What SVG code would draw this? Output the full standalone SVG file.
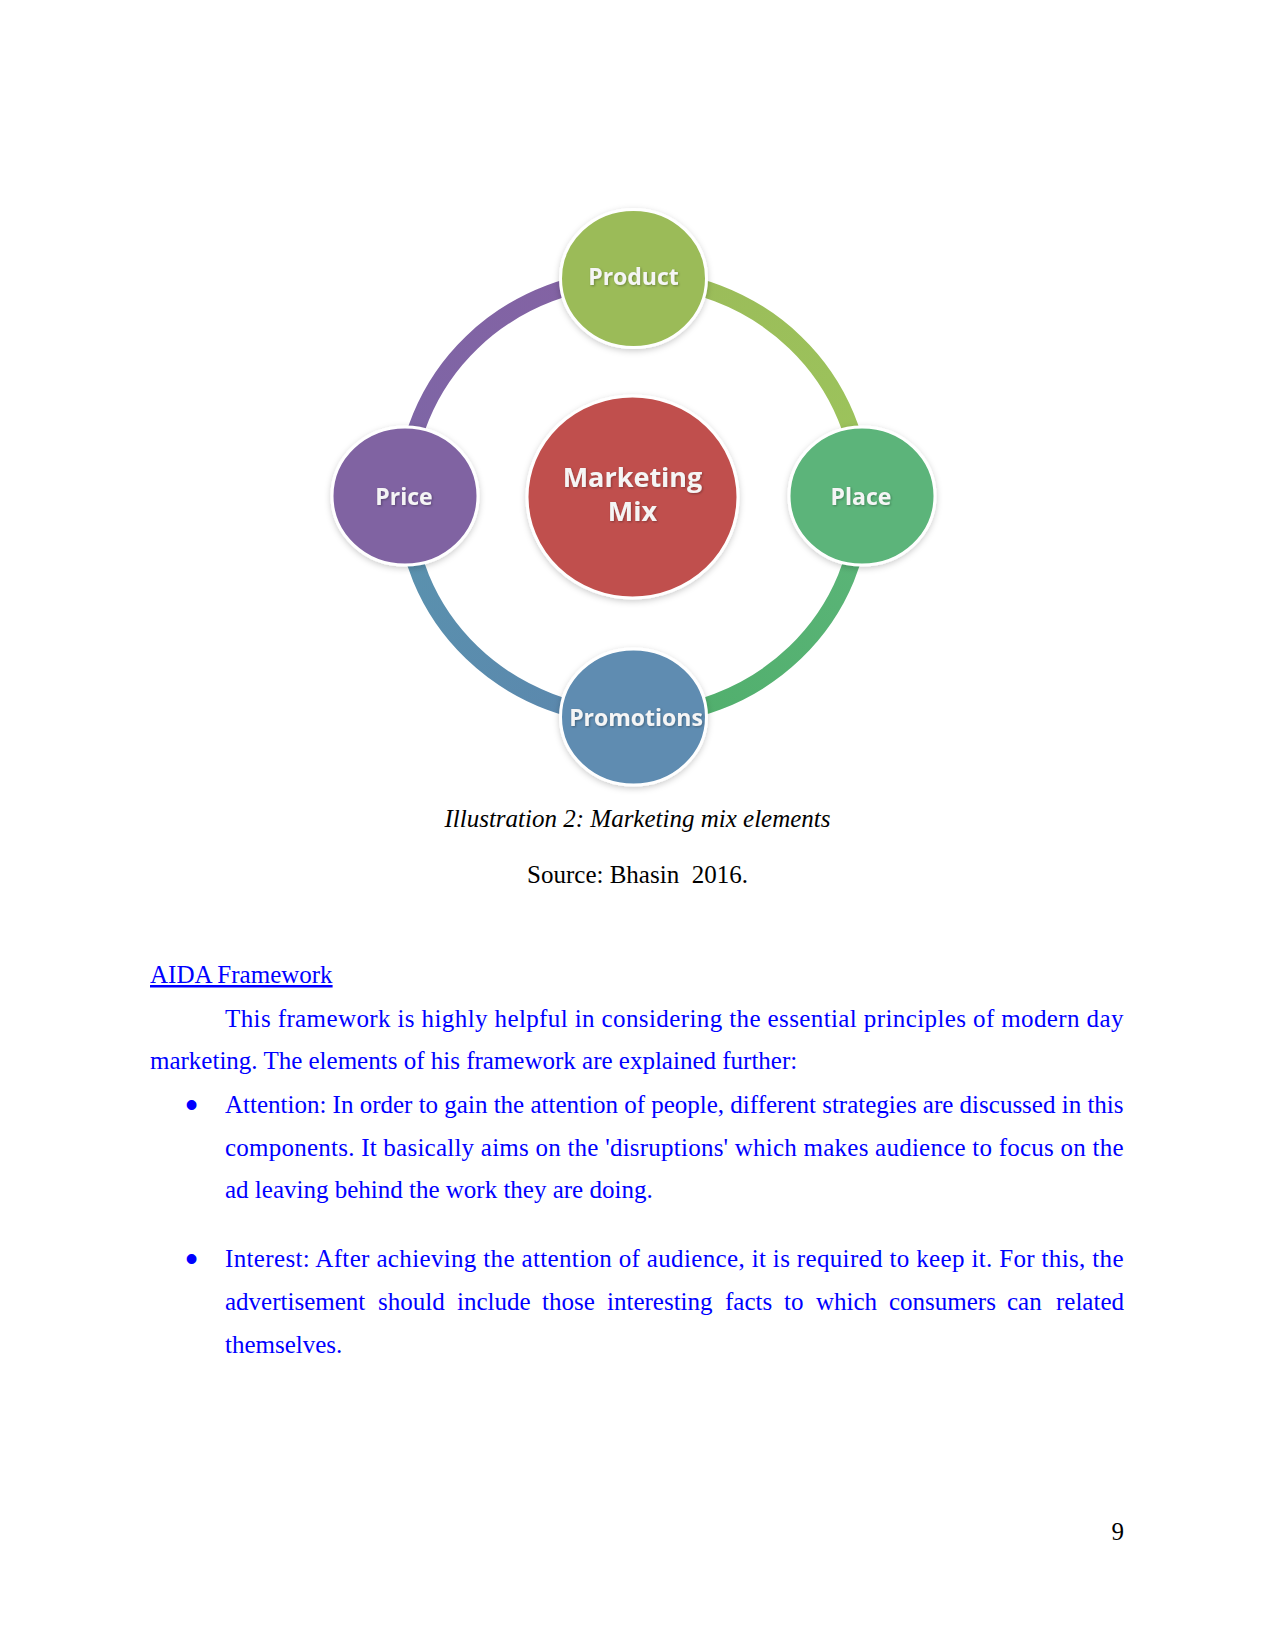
<svg xmlns="http://www.w3.org/2000/svg" width="1275" height="1650" viewBox="0 0 1275 1650">
<defs>
<style>
.lbl{font-family:"Open Sans","Noto Sans",sans-serif;font-weight:bold;fill:#f5f5f5;text-anchor:middle;}
.ring{fill:none;stroke-width:17;}
.node{stroke:#ffffff;stroke-width:3;filter:url(#sh);}
.doc{font-family:"Liberation Serif","Times New Roman",serif;font-size:25px;}
.blue{fill:#0000ff;}
.bul{font-family:"Liberation Sans",Arial,sans-serif;font-size:36px;fill:#0000ff;text-anchor:middle;}
</style>
<filter id="sh" x="-20%" y="-20%" width="140%" height="140%">
<feGaussianBlur in="SourceAlpha" stdDeviation="3"/>
<feOffset dx="0" dy="2" result="b"/>
<feFlood flood-color="#000" flood-opacity="0.2"/>
<feComposite in2="b" operator="in"/>
<feMerge><feMergeNode/><feMergeNode in="SourceGraphic"/></feMerge>
</filter>
<filter id="ts" x="-10%" y="-10%" width="120%" height="130%">
<feGaussianBlur in="SourceAlpha" stdDeviation="1"/>
<feOffset dx="1" dy="1" result="b"/>
<feFlood flood-color="#000" flood-opacity="0.3"/>
<feComposite in2="b" operator="in"/>
<feMerge><feMergeNode/><feMergeNode in="SourceGraphic"/></feMerge>
</filter>
<linearGradient id="gTR" gradientUnits="userSpaceOnUse" x1="633" y1="278" x2="862" y2="497"><stop offset="0" stop-color="#9bbb59"/><stop offset="1" stop-color="#9cc45c"/></linearGradient>
<linearGradient id="gBR" gradientUnits="userSpaceOnUse" x1="862" y1="497" x2="633" y2="717"><stop offset="0" stop-color="#5cb579"/><stop offset="1" stop-color="#4fae6b"/></linearGradient>
<linearGradient id="gBL" gradientUnits="userSpaceOnUse" x1="633" y1="717" x2="405" y2="497"><stop offset="0" stop-color="#5b86ad"/><stop offset="1" stop-color="#5a93ae"/></linearGradient>
<linearGradient id="gTL" gradientUnits="userSpaceOnUse" x1="405" y1="497" x2="633" y2="278"><stop offset="0" stop-color="#7d66a6"/><stop offset="1" stop-color="#8462a3"/></linearGradient>
</defs>
<rect width="1275" height="1650" fill="#ffffff"/>

<g id="connectors">
<path class="ring" stroke="url(#gTR)" d="M 633.5 278 A 228.5 219.5 0 0 1 862 497.5"/>
<path class="ring" stroke="url(#gBR)" d="M 862 497.5 A 228.5 219.5 0 0 1 633.5 717"/>
<path class="ring" stroke="url(#gBL)" d="M 633.5 717 A 228.5 219.5 0 0 1 405 497.5"/>
<path class="ring" stroke="url(#gTL)" d="M 405 497.5 A 228.5 219.5 0 0 1 633.5 278"/>
</g>

<g id="node-product">
<ellipse class="node" cx="633.5" cy="278.5" rx="73" ry="69" fill="#9bbb59"/>
<text class="lbl" x="633.5" y="285" font-size="23" filter="url(#ts)">Product</text>
</g>
<g id="node-place">
<ellipse class="node" cx="862" cy="496" rx="73" ry="69" fill="#5bb47a"/>
<text class="lbl" x="861" y="505" font-size="23" filter="url(#ts)">Place</text>
</g>
<g id="node-price">
<ellipse class="node" cx="405" cy="496" rx="73" ry="69" fill="#8064a2"/>
<text class="lbl" x="404" y="505" font-size="23" filter="url(#ts)">Price</text>
</g>
<g id="node-promotions">
<ellipse class="node" cx="633.5" cy="717" rx="73" ry="68" fill="#5e8cb1"/>
<text class="lbl" x="636" y="726" font-size="23" filter="url(#ts)">Promotions</text>
</g>
<g id="node-mix">
<ellipse class="node" cx="632.5" cy="497" rx="105.5" ry="101" fill="#c0504d"/>
<text class="lbl" x="632.5" y="487" font-size="27" filter="url(#ts)">Marketing</text>
<text class="lbl" x="632.5" y="521" font-size="27" filter="url(#ts)">Mix</text>
</g>

<text class="doc" x="637.5" y="827" text-anchor="middle" font-style="italic" fill="#000">Illustration 2: Marketing mix elements</text>
<text class="doc" x="637.5" y="883" text-anchor="middle" fill="#000" xml:space="preserve" style="white-space:pre">Source: Bhasin  2016.</text>

<text class="doc blue" x="150" y="983" text-decoration="underline">AIDA Framework</text>
<text class="doc blue" x="225" y="1027" textLength="898.5" lengthAdjust="spacing">This framework is highly helpful in considering the essential principles of modern day</text>
<text class="doc blue" x="150" y="1069">marketing. The elements of his framework are explained further:</text>

<text class="bul" x="191.5" y="1117">•</text>
<text class="doc blue" x="225" y="1113" textLength="898.5" lengthAdjust="spacing">Attention: In order to gain the attention of people, different strategies are discussed in this</text>
<text class="doc blue" x="225" y="1156" textLength="898.5" lengthAdjust="spacing">components. It basically aims on the 'disruptions' which makes audience to focus on the</text>
<text class="doc blue" x="225" y="1198">ad leaving behind the work they are doing.</text>

<text class="bul" x="191.5" y="1271">•</text>
<text class="doc blue" x="225" y="1267" textLength="898.5" lengthAdjust="spacing">Interest: After achieving the attention of audience, it is required to keep it. For this, the</text>
<text class="doc blue" y="1310"><tspan x="225">advertisement</tspan><tspan x="378">should</tspan><tspan x="457">include</tspan><tspan x="542">those</tspan><tspan x="607">interesting</tspan><tspan x="725">facts</tspan><tspan x="784">to</tspan><tspan x="816">which</tspan><tspan x="889">consumers</tspan><tspan x="1007">can</tspan><tspan x="1056">related</tspan></text>
<text class="doc blue" x="225" y="1353">themselves.</text>

<text class="doc" x="1124" y="1540" text-anchor="end" fill="#000">9</text>
</svg>
